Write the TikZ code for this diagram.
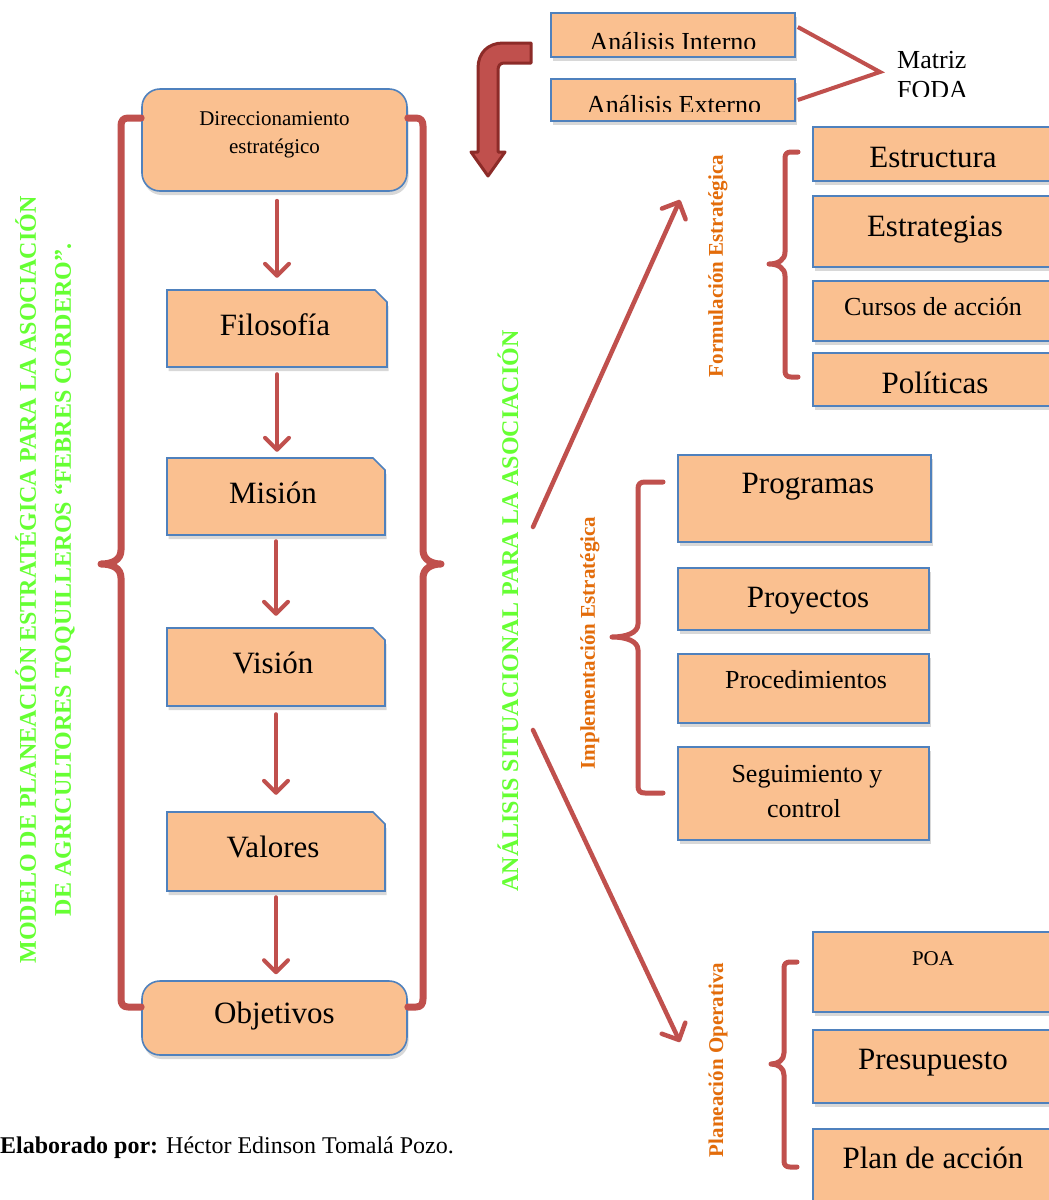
\documentclass[tikz,border=0pt]{standalone}
\usepackage{fontspec}
\setmainfont{Liberation Serif}
\usetikzlibrary{arrows.meta,shadows,fit}

\definecolor{boxfill}{HTML}{FAC090}
\definecolor{boxline}{HTML}{4F81BD}
\definecolor{brk}{HTML}{C0504D}
\definecolor{darkbrk}{HTML}{8C2B28}
\definecolor{titlegreen}{RGB}{102,255,51}
\definecolor{phase}{HTML}{E36C0A}

\tikzset{
  box/.style={draw=boxline, fill=boxfill, line width=1.6pt, inner sep=0pt,
    drop shadow={shadow xshift=1.5pt, shadow yshift=-4pt, opacity=0.3}},
  roundbox/.style={box, rounded corners=18pt},
  frame/.style={inner sep=0pt},
  lbl/.style={inner sep=0pt, anchor=base, text=black},
  big/.style={font=\fontsize{31}{36}\selectfont},
  mid/.style={font=\fontsize{26}{30}\selectfont},
  small/.style={font=\fontsize{21}{25}\selectfont},
  flowarrow/.style={draw=brk, line width=4pt, line cap=round,
    -{Straight Barb[length=12pt,width=24pt,round]}},
  diagarrow/.style={draw=brk, line width=4.5pt, line cap=round,
    -{Straight Barb[length=13pt,width=26pt,round]}},
  bigbrace/.style={draw=brk, line width=7pt, line cap=round, line join=round},
  brace/.style={draw=brk, line width=5pt, line cap=round, line join=round},
  link/.style={draw=brk, line width=4pt},
  greentitle/.style={rotate=90, align=center, inner sep=0pt, text=titlegreen,
    font=\bfseries\fontsize{24}{35}\selectfont},
  phasetitle/.style={rotate=90, inner sep=0pt, text=phase,
    font=\bfseries\fontsize{21}{25}\selectfont},
}

% box with its upper right corner cut off
\newcommand\notchbox[5]{%
  \path[box] (#2,#3) -- ({#4-12},#3) -- (#4,{#3+12}) -- (#4,#5) -- (#2,#5) -- cycle;
  \node[frame, fit={(#2,#3) (#4,#5)}] (#1) {};
}

\begin{document}
\begin{tikzpicture}[x=1pt, y=-1pt]
\useasboundingbox[fill=white] (0,0) rectangle (1049,1200);

% ---------- left column ----------
\node[roundbox, fit={(142,89) (407,191)}] (dir) {};
\node[lbl, small] (dirT1) at (274.5,125) {Direccionamiento};
\node[lbl, small] (dirT2) at (274.5,153) {estratégico};

\notchbox{filo}{167}{290}{387}{367}
\node[lbl, big] (filoT) at (275,335) {Filosofía};
\notchbox{mis}{167}{458}{385}{535}
\node[lbl, big] (misT) at (273,503) {Misión};
\notchbox{vis}{167}{628}{385}{706}
\node[lbl, big] (visT) at (273,673) {Visión};
\notchbox{val}{167}{812}{385}{891}
\node[lbl, big] (valT) at (273,857) {Valores};

\node[roundbox, fit={(142,981) (407,1055)}] (obj) {};
\node[lbl, big] (objT) at (274.5,1023) {Objetivos};

\draw[flowarrow, shorten <=9pt, shorten >=12pt] (dir.south -| filo.north) -- (filo.north);
\draw[flowarrow, shorten <=7pt, shorten >=6pt] (filo.south) -- (filo.south |- mis.north);
\draw[flowarrow, shorten <=6pt, shorten >=12pt] (mis.south) -- (mis.south |- vis.north);
\draw[flowarrow, shorten <=8pt, shorten >=17pt] (vis.south) -- (vis.south |- val.north);
\draw[flowarrow, shorten <=6pt, shorten >=6pt] (val.south) -- (val.south |- obj.north);

% braces around the column
\draw[bigbrace] (dir.west |- 0,118) -- (128,118) .. controls (123,118) and (121,121) .. (121,126)
  -- (121,550) .. controls (121,560) and (112,564) .. (101,564)
  .. controls (112,564) and (121,568) .. (121,578)
  -- (121,999) .. controls (121,1004) and (123,1007) .. (128,1007) -- (obj.west |- 0,1007);
\draw[bigbrace] (dir.east |- 0,118) -- (416,118) .. controls (421,118) and (423,121) .. (423,126)
  -- (423,550) .. controls (423,560) and (432,564) .. (441,564)
  .. controls (432,564) and (423,568) .. (423,578)
  -- (423,999) .. controls (423,1004) and (421,1007) .. (416,1007) -- (obj.east |- 0,1007);

\node[greentitle] (title) at (45,580)
  {MODELO DE PLANEACIÓN ESTRATÉGICA PARA LA ASOCIACIÓN\\DE AGRICULTORES TOQUILLEROS “FEBRES CORDERO”.};
\node[greentitle] (situ) at (508,611) {ANÁLISIS SITUACIONAL PARA LA ASOCIACIÓN};

% ---------- internal / external analysis ----------
\path[draw=darkbrk, fill=brk, line width=3pt, line join=round]
  (531,43) -- (503,43) .. controls (488,43) and (478,53) .. (478,68)
  -- (478,152) -- (471,152) -- (488,176) -- (505,152) -- (498,152)
  -- (498,70) .. controls (498,66) and (500,63) .. (504,63) -- (531,63) -- cycle;

\node[box, fit={(551,13) (795,57)}] (ai) {};
\node[box, fit={(551,79) (795,121)}] (ae) {};
\begin{scope}
  \clip (551,13) rectangle (795,48);
  \node[lbl, mid] (aiT) at (673,50) {Análisis Interno};
\end{scope}
\begin{scope}
  \clip (551,79) rectangle (795,111);
  \node[lbl, mid] (aeT) at (674,113) {Análisis Externo};
\end{scope}

\coordinate (foda) at (880,72);
\draw[link] ([xshift=2pt,yshift=8pt]ai.east) -- (foda) -- ([xshift=2pt]ae.east);
\node[lbl, mid, anchor=base west] (fodaT1) at (897,68) {Matriz};
\begin{scope}
  \clip (890,75) rectangle (1000,96);
  \node[lbl, mid, anchor=base west] (fodaT2) at (897,98) {FODA};
\end{scope}

% ---------- strategic formulation ----------
\coordinate (upS) at (533,527);
\coordinate (upE) at (680,200);
\draw[diagarrow] (upS) -- (upE);
\node[phasetitle] (formT) at (718,266) {Formulación Estratégica};

\node[box, fit={(813,127) (1070,181)}] (estr) {};
\node[lbl, big] (estrT) at (933,167) {Estructura};
\node[box, fit={(813,196) (1070,267)}] (estg) {};
\node[lbl, big] (estgT) at (935,236) {Estrategias};
\node[box, fit={(813,281) (1070,341)}] (cur) {};
\node[lbl, mid] (curT) at (933,315) {Cursos de acción};
\node[box, fit={(813,353) (1070,406)}] (pol) {};
\node[lbl, big] (polT) at (935,393) {Políticas};

\draw[brace] (798,152) -- (791,152) .. controls (787,152) and (785,154) .. (785,158)
  -- (785,252) .. controls (785,260) and (778,264) .. (769,264)
  .. controls (778,264) and (785,268) .. (785,276)
  -- (785,371) .. controls (785,375) and (787,377) .. (791,377) -- (798,377);

% ---------- strategic implementation ----------
\node[phasetitle] (implT) at (590,643) {Implementación Estratégica};

\node[box, fit={(678,455) (931,542)}] (prog) {};
\node[lbl, big] (progT) at (808,493) {Programas};
\node[box, fit={(678,568) (929,630)}] (proy) {};
\node[lbl, big] (proyT) at (808,607) {Proyectos};
\node[box, fit={(678,654) (929,723)}] (proc) {};
\node[lbl, mid] (procT) at (806,688) {Procedimientos};
\node[box, fit={(678,747) (929,840)}] (seg) {};
\node[lbl, mid] (segT1) at (807,782) {Seguimiento y};
\node[lbl, mid] (segT2) at (804,817) {control};

\draw[brace] (663,482) -- (645,482) .. controls (640,482) and (638,484) .. (638,489)
  -- (638,624) .. controls (638,633) and (626,637) .. (612,637)
  .. controls (626,637) and (638,641) .. (638,650)
  -- (638,786) .. controls (638,791) and (640,793) .. (645,793) -- (663,793);

% ---------- operative planning ----------
\coordinate (dnS) at (533,730);
\coordinate (dnE) at (680,1042);
\draw[diagarrow] (dnS) -- (dnE);
\node[phasetitle] (planT) at (718,1060) {Planeación Operativa};

\node[box, fit={(813,932) (1070,1012)}] (poa) {};
\node[lbl, small] (poaT) at (933,965) {POA};
\node[box, fit={(813,1030) (1070,1103)}] (pres) {};
\node[lbl, big] (presT) at (933,1069) {Presupuesto};
\node[box, fit={(813,1129) (1070,1230)}] (plan) {};
\node[lbl, big] (planBoxT) at (933,1168) {Plan de acción};

\draw[brace] (797,962) -- (790,962) .. controls (786,962) and (784,964) .. (784,968)
  -- (784,1053) .. controls (784,1060) and (778,1064) .. (771,1064)
  .. controls (778,1064) and (784,1068) .. (784,1075)
  -- (784,1161) .. controls (784,1165) and (786,1167) .. (790,1167) -- (797,1167);

% ---------- credit line ----------
\node[lbl, anchor=base west, font=\fontsize{24}{28}\selectfont] (credit) at (0,1153)
  {\textbf{Elaborado por:} Héctor Edinson Tomalá Pozo.};
\end{tikzpicture}
\end{document}
